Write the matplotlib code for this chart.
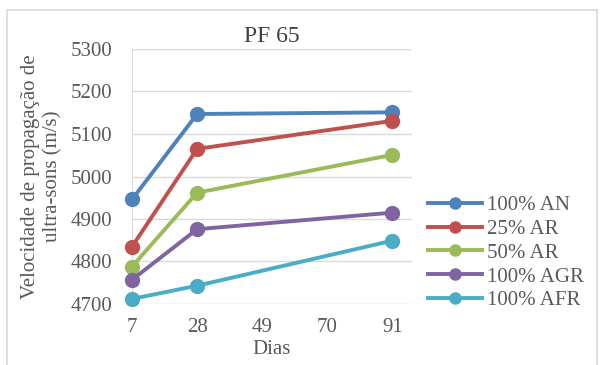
import matplotlib.pyplot as plt
from matplotlib.patches import Rectangle

dias = [7, 28, 91]
an100 = [4946, 5147, 5151]
ar25 = [4835, 5065, 5131]
ar50 = [4788, 4962, 5051]
agr100 = [4757, 4876, 4915]
afr100 = [4712, 4743, 4849]

labels = ['100% AN', '25% AR', '50% AR', '100% AGR', '100% AFR']
cores = ['#4F81BD', '#C0504D', '#9BBB59', '#8064A2', '#4BACC6']

plt.rcParams['font.family'] = ['Liberation Serif', 'DejaVu Serif']

fig = plt.figure(figsize=(6.02, 3.65), dpi=100)
ax = fig.add_axes([132/602, 1-304/365, 280/602, 255/365])

# borda do grafico
fig.patches.append(Rectangle((7/602, -0.1), 590/602, 1.1 - 10/365,
                             transform=fig.transFigure, fill=False,
                             edgecolor='#D9D9D9', lw=1.2))

for serie, lab, c in zip([an100, ar25, ar50, agr100, afr100], labels, cores):
    ax.plot(dias, serie, '-o', color=c, lw=2.8, markersize=10, label=lab,
            clip_on=False, zorder=3)

ax.set_xlim(7, 97.3)
ax.set_ylim(4700, 5300)
ax.set_xticks([7, 28, 49, 70, 91])
ax.set_yticks(range(4700, 5301, 100))
ax.grid(axis='y', color='#D9D9D9', lw=1)
ax.set_axisbelow(True)
for s in ['top', 'right', 'bottom']:
    ax.spines[s].set_visible(False)
ax.spines['left'].set_color('#D9D9D9')
ax.tick_params(length=0, labelsize=15, colors='#595959')
ax.tick_params(axis='y', pad=14)
ax.tick_params(axis='x', pad=10)

ax.set_title('PF 65', fontsize=17, color='#404040', pad=5)
ax.set_xlabel('Dias', fontsize=15, color='#595959', labelpad=2)
ax.set_ylabel('Velocidade de propagação de\nultra-sons (m/s)', fontsize=15,
              color='#595959', labelpad=6, linespacing=1.2)

ax.legend(loc='center left', bbox_to_anchor=((428-132)/280, (304-253)/255),
          bbox_transform=ax.transAxes, frameon=False, fontsize=15,
          handlelength=2.6, handletextpad=0.25, labelspacing=0.2,
          markerscale=0.8, borderpad=0, borderaxespad=0, labelcolor='#595959')

fig.savefig('out.png', dpi=100)
